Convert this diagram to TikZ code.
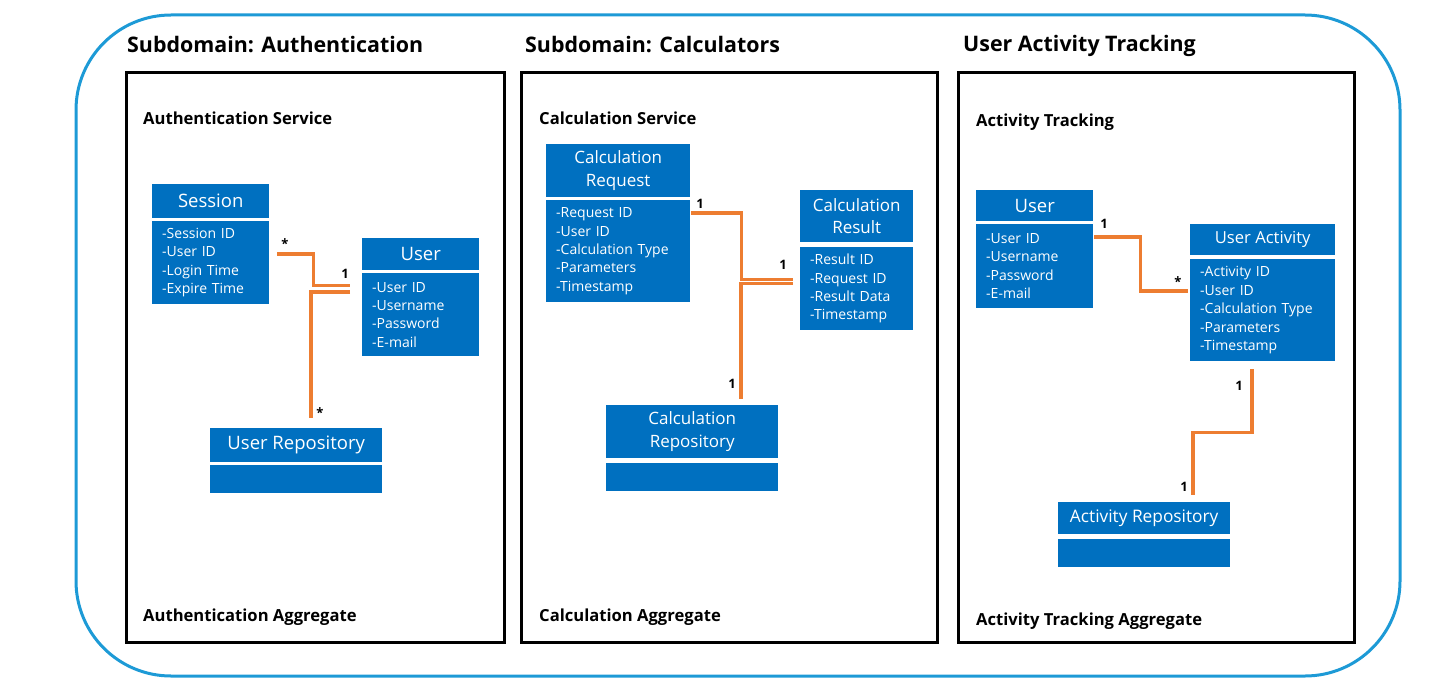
\documentclass[tikz,border=0pt]{standalone}
\usepackage{fontspec}
\setmainfont{Open Sans}
\usetikzlibrary{calc}
\definecolor{umlblue}{HTML}{0070C0}
\definecolor{conncol}{HTML}{ED7D31}
\definecolor{outercol}{HTML}{1D9AD6}
\tikzset{
  hdr/.style={fill=umlblue, text=white, anchor=north west, inner sep=0pt, align=center,
    font=\fontsize{18.5}{22}\selectfont},
  hdrtwo/.style={hdr, font=\fontsize{17}{22.5}\selectfont},
  body/.style={fill=umlblue, text=white, anchor=north west, inner ysep=0pt, inner xsep=10pt,
    align=left, font=\fontsize{14}{18.4}\selectfont},
  panel/.style={draw=black, line width=3pt, anchor=north west, inner sep=0pt},
  title/.style={anchor=base west, inner sep=0pt, font=\fontsize{21.4}{26}\bfseries\selectfont},
  sublabel/.style={anchor=base west, inner sep=0pt, font=\fontsize{16.6}{20}\bfseries\selectfont},
  mult/.style={anchor=base, inner sep=0pt, font=\fontsize{13}{15}\bfseries\selectfont},
  conn/.style={draw=conncol, line width=3.2pt},
  outer/.style={draw=outercol, line width=3pt, rounded corners=95pt}
}
\begin{document}
\begin{tikzpicture}[x=1pt,y=-1pt]
\useasboundingbox (0,0) rectangle (1453,687);
% outer frame
\draw[outer] (76,15) rectangle (1400,676);
% panels
\node[panel, minimum width=378pt, minimum height=570pt] (authP) at (125,71) {};
\node[panel, minimum width=416pt, minimum height=570pt] (calcP) at (520,71) {};
\node[panel, minimum width=396pt, minimum height=570pt] (actP) at (957,71) {};
% titles
\node[title] (t1) at (127,53) {Subdomain: Authentication};
\node[title] (t2) at (525,53) {Subdomain: Calculators};
\node[title] (t3) at (963,52) {User Activity Tracking};
% sub labels
\node[sublabel] (l1) at (143,125) {Authentication Service};
\node[sublabel] (l2) at (143,621) {Authentication Aggregate};
\node[sublabel] (l3) at (539,125) {Calculation Service};
\node[sublabel] (l4) at (539,621) {Calculation Aggregate};
\node[sublabel] (l5) at (976,127) {Activity Tracking};
\node[sublabel] (l6) at (976,625) {Activity Tracking Aggregate};

% ---- Authentication classes
\node[hdr, minimum width=117pt, minimum height=34pt] (sessH) at (152,184) {Session};
\node[body, text width=97pt, minimum height=83pt] (sessB) at (152,221) {-Session ID\\-User ID\\-Login Time\\-Expire Time};
\node[hdr, minimum width=117pt, minimum height=32pt] (userH) at (362,238) {User};
\node[body, text width=97pt, minimum height=83pt] (userB) at (362,273) {-User ID\\-Username\\-Password\\-E-mail};
\node[hdr, minimum width=172pt, minimum height=34pt] (urepH) at (210,428) {User Repository};
\node[body, text width=152pt, minimum height=28pt] (urepB) at (210,465) {};

% ---- Calculator classes
\node[hdrtwo, minimum width=144pt, minimum height=53pt] (crqH) at (546,144) {Calculation\\Request};
\node[body, text width=124pt, minimum height=102pt] (crqB) at (546,200) {-Request ID\\-User ID\\-Calculation Type\\-Parameters\\-Timestamp};
\node[hdrtwo, minimum width=113pt, minimum height=52pt] (crsH) at (800,190) {Calculation\\Result};
\node[body, text width=93pt, minimum height=83pt] (crsB) at (800,247) {-Result ID\\-Request ID\\-Result Data\\-Timestamp};
\node[hdrtwo, minimum width=172pt, minimum height=53pt] (crpH) at (606,405) {Calculation\\Repository};
\node[body, text width=152pt, minimum height=28pt] (crpB) at (606,463) {};

% ---- Activity classes
\node[hdr, minimum width=117pt, minimum height=31pt] (auH) at (976,190) {User};
\node[body, text width=97pt, minimum height=84pt] (auB) at (976,224) {-User ID\\-Username\\-Password\\-E-mail};
\node[hdr, minimum width=145pt, minimum height=31pt, font=\fontsize{16.6}{20}\selectfont] (uaH) at (1190,224) {User Activity};
\node[body, text width=125pt, minimum height=102pt] (uaB) at (1190,259) {-Activity ID\\-User ID\\-Calculation Type\\-Parameters\\-Timestamp};
\node[hdr, minimum width=172pt, minimum height=32pt, font=\fontsize{17.3}{20}\selectfont] (arH) at (1058,502) {Activity Repository};
\node[body, text width=152pt, minimum height=28pt] (arB) at (1058,539) {};

% ---- connectors (authentication)
\draw[conn] ($(sessB.north east)+(8,33)$) -- ++(36,0) |- ($(userB.north west)+(-12,12.5)$);
\draw[conn] ($(userB.north west)+(-12,19)$) -| ($(urepH.north west)+(101,-10)$);
% ---- connectors (calculators)
\draw[conn] ($(crqB.north east)+(1,13)$) -- ++(50,0) |- ($(crsB.north west)+(-7,32.5)$);
\draw[conn] ($(crsB.north west)+(-7,36.5)$) -| ($(crpH.north west)+(135,-6.5)$);
% ---- connectors (activity)
\draw[conn] ($(auB.north east)+(1,13)$) -- ++(46,0) |- ($(uaB.north west)+(-2,32)$);
\draw[conn] ($(uaB.south west)+(62,8)$) -- ++(0,63) -| ($(arH.north west)+(135,-7)$);

% multiplicities
\node[mult] (m1) at (285,248) {*};
\node[mult] (m2) at (345,278) {1};
\node[mult] (m3) at (320,417) {*};
\node[mult] (m4) at (700,208) {1};
\node[mult] (m5) at (783,269) {1};
\node[mult] (m6) at (732,388) {1};
\node[mult] (m7) at (1104,228) {1};
\node[mult] (m8) at (1178,286) {*};
\node[mult] (m9) at (1239,390) {1};
\node[mult] (m10) at (1184,491) {1};
\end{tikzpicture}
\end{document}
